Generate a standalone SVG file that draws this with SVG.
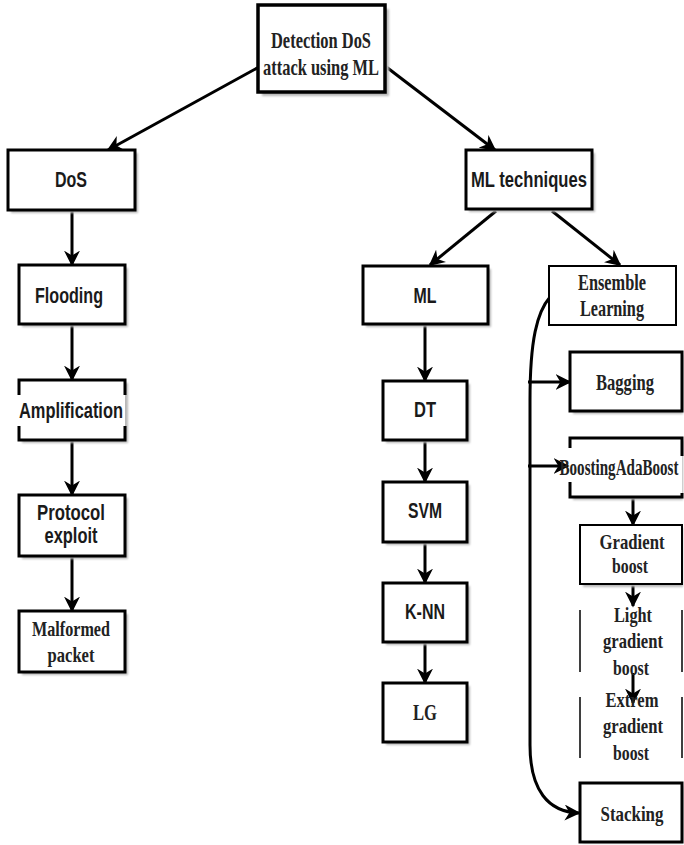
<svg xmlns="http://www.w3.org/2000/svg" width="684" height="845" viewBox="0 0 684 845">
<defs>
<marker id="arr" viewBox="0 0 10 10" refX="9" refY="5" markerWidth="16" markerHeight="16" markerUnits="userSpaceOnUse" orient="auto">
<path d="M0,0 L10,5 L0,10 L3,5 z" fill="#000"/>
</marker>
<filter id="blur" x="-10%" y="-10%" width="130%" height="130%"><feGaussianBlur stdDeviation="1"/></filter>
</defs>
<style>
.box{fill:#fff;stroke:#000;stroke-width:3}
.thin{fill:#fff;stroke:#000;stroke-width:2}
.sh{fill:#b8b8b8;filter:url(#blur)}
.edge{fill:none;stroke:#000;stroke-width:3}
.con{fill:none;stroke:#000;stroke-width:3;marker-end:url(#arr)}
.sans{font-family:"Liberation Sans",Arial,sans-serif;font-size:22px;font-weight:bold;fill:#1a1a1a;text-anchor:middle}
.serif{font-family:"Liberation Serif","Times New Roman",serif;font-size:23px;font-weight:bold;fill:#222;text-anchor:middle}
.s21{font-size:22px}
</style>
<rect width="684" height="845" fill="#fff"/>

<g id="connectors">
<path class="con" d="M259,67 L108,150"/>
<path class="con" d="M385,66 L495,150"/>
<path class="con" d="M72,210 L72,265"/>
<path class="con" d="M72,324 L72,380"/>
<path class="con" d="M72,440 L72,495"/>
<path class="con" d="M72,556 L72,611"/>
<path class="con" d="M496,211 L430,265"/>
<path class="con" d="M552,211 L620,265"/>
<path class="con" d="M425,324 L425,381"/>
<path class="con" d="M425,440 L425,482"/>
<path class="con" d="M425,542 L425,583"/>
<path class="con" d="M425,642 L425,683"/>
<path class="con" d="M550,297 C537,312 530,340 530,400 L530,745 C530,790 548,812 579,813"/>
<path class="con" d="M528,382 L570,382"/>
<path class="con" d="M528,466 L568,466"/>
<path class="con" d="M633,497 L633,525"/>
<path class="con" d="M633,584 L633,606"/>
<path class="con" d="M633,673 L633,703"/>
</g>

<g id="n-root">
<rect class="sh" x="262" y="9" width="127" height="87"/>
<rect class="box" x="258" y="5" width="127" height="87" style="stroke-width:3.5"/>
<text class="serif" x="321" y="48" font-size="26" textLength="100" lengthAdjust="spacingAndGlyphs">Detection DoS</text>
<text class="serif" x="321" y="75" font-size="26" textLength="116" lengthAdjust="spacingAndGlyphs">attack using ML</text>
</g>

<g id="n-dos">
<rect class="sh" x="11" y="153" width="127" height="60"/>
<rect class="box" x="8" y="150" width="127" height="60"/>
<text class="sans" x="71" y="187" textLength="32" lengthAdjust="spacingAndGlyphs">DoS</text>
</g>

<g id="n-flooding">
<rect class="sh" x="22" y="268" width="106" height="59"/>
<rect class="box" x="19" y="265" width="106" height="59"/>
<text class="sans" x="69" y="303" textLength="68" lengthAdjust="spacingAndGlyphs">Flooding</text>
</g>

<g id="n-amplification">
<rect class="sh" x="22" y="383" width="106" height="60"/>
<rect x="19" y="380" width="106" height="60" fill="#fff"/>
<path class="edge" d="M19,395 L19,380 L125,380 L125,395 M19,426 L19,440 L125,440 L125,426"/>
<text class="sans" x="71" y="418" textLength="104" lengthAdjust="spacingAndGlyphs">Amplification</text>
</g>

<g id="n-protocol">
<rect class="sh" x="22" y="498" width="106" height="61"/>
<rect class="box" x="19" y="495" width="106" height="61"/>
<text class="sans" x="71" y="520" textLength="68" lengthAdjust="spacingAndGlyphs">Protocol</text>
<text class="sans" x="71" y="543" textLength="53" lengthAdjust="spacingAndGlyphs">exploit</text>
</g>

<g id="n-malformed">
<rect class="sh" x="22" y="614" width="106" height="61"/>
<rect class="box" x="19" y="611" width="106" height="61"/>
<text class="serif s21" x="71" y="636" textLength="78" lengthAdjust="spacingAndGlyphs">Malformed</text>
<text class="serif s21" x="71" y="662" textLength="47" lengthAdjust="spacingAndGlyphs">packet</text>
</g>

<g id="n-mltech">
<rect class="sh" x="469" y="153" width="126" height="59"/>
<rect class="box" x="466" y="150" width="126" height="59"/>
<text class="sans" x="529" y="187" textLength="116" lengthAdjust="spacingAndGlyphs">ML techniques</text>
</g>

<g id="n-ml">
<rect class="sh" x="366" y="269" width="125" height="58"/>
<rect class="box" x="363" y="266" width="125" height="58"/>
<text class="sans" x="425" y="303" textLength="23" lengthAdjust="spacingAndGlyphs">ML</text>
</g>

<g id="n-ensemble">
<rect class="thin" x="549" y="266" width="127" height="59"/>
<text class="serif" x="612" y="290" textLength="68" lengthAdjust="spacingAndGlyphs">Ensemble</text>
<text class="serif" x="612" y="316" textLength="64" lengthAdjust="spacingAndGlyphs">Learning</text>
</g>

<g id="n-dt">
<rect class="sh" x="386" y="384" width="84" height="59"/>
<rect class="box" x="383" y="381" width="84" height="59"/>
<text class="sans" x="425" y="417" textLength="22" lengthAdjust="spacingAndGlyphs">DT</text>
</g>

<g id="n-svm">
<rect class="sh" x="386" y="485" width="84" height="60"/>
<rect class="box" x="383" y="482" width="84" height="60"/>
<text class="sans" x="425" y="518" textLength="34" lengthAdjust="spacingAndGlyphs">SVM</text>
</g>

<g id="n-knn">
<rect class="sh" x="386" y="586" width="84" height="59"/>
<rect class="box" x="383" y="583" width="84" height="59"/>
<text class="sans" x="425" y="619" textLength="40" lengthAdjust="spacingAndGlyphs">K-NN</text>
</g>

<g id="n-lg">
<rect class="sh" x="386" y="686" width="84" height="59"/>
<rect class="box" x="383" y="683" width="84" height="59"/>
<text class="serif" x="425" y="720" font-weight="normal" textLength="24" lengthAdjust="spacingAndGlyphs">LG</text>
</g>

<g id="n-bagging">
<rect class="sh" x="573" y="355" width="110" height="59"/>
<rect class="box" x="570" y="352" width="112" height="59"/>
<text class="serif" x="625" y="390" textLength="58" lengthAdjust="spacingAndGlyphs">Bagging</text>
</g>

<g id="n-boosting">
<rect class="sh" x="573" y="441" width="110" height="59"/>
<rect x="570" y="438" width="112" height="59" fill="#fff"/>
<path class="edge" d="M570,448 L570,438 L682,438 L682,456 M570,482 L570,497 L682,497 L682,493"/>
<text class="serif" x="619" y="475" textLength="119" lengthAdjust="spacingAndGlyphs">BoostingAdaBoost</text>
</g>

<g id="n-gradient">
<rect class="sh" x="583" y="528" width="100" height="59"/>
<rect class="thin" x="580" y="525" width="102" height="59"/>
<text class="serif s21" x="632" y="549" textLength="65" lengthAdjust="spacingAndGlyphs">Gradient</text>
<text class="serif s21" x="630" y="573" textLength="36" lengthAdjust="spacingAndGlyphs">boost</text>
</g>

<g id="n-light">
<path d="M580,610 L580,672 M682,610 L682,672" fill="none" stroke="#000" stroke-width="1.5"/>
<text class="serif s21" x="633" y="622" textLength="38" lengthAdjust="spacingAndGlyphs">Light</text>
<text class="serif s21" x="633" y="648" textLength="60" lengthAdjust="spacingAndGlyphs">gradient</text>
<text class="serif s21" x="631" y="675" textLength="36" lengthAdjust="spacingAndGlyphs">boost</text>
</g>

<g id="n-extrem">
<path d="M580,697 L580,758 M682,697 L682,758" fill="none" stroke="#000" stroke-width="1.5"/>
<text class="serif s21" x="632" y="707" textLength="53" lengthAdjust="spacingAndGlyphs">Extrem</text>
<text class="serif s21" x="633" y="733" textLength="60" lengthAdjust="spacingAndGlyphs">gradient</text>
<text class="serif s21" x="631" y="760" textLength="36" lengthAdjust="spacingAndGlyphs">boost</text>
</g>

<g id="n-stacking">
<rect class="sh" x="583" y="786" width="100" height="57"/>
<rect class="box" x="580" y="783" width="102" height="59"/>
<text class="serif s21" x="632" y="821" textLength="63" lengthAdjust="spacingAndGlyphs">Stacking</text>
</g>
</svg>
